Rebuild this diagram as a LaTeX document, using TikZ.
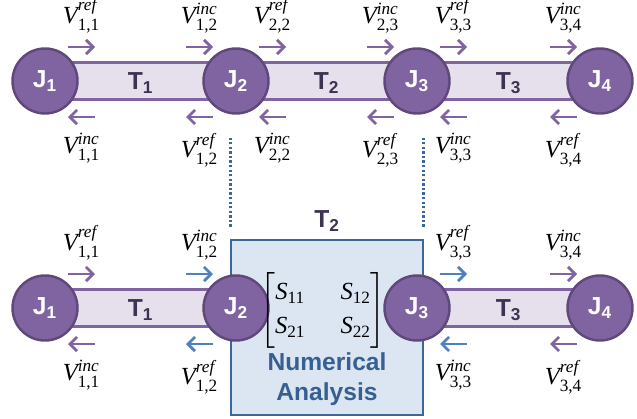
\documentclass[tikz,border=0pt]{standalone}
\usepackage{amsmath}
\usepackage{fontspec}
\setmainfont{Liberation Sans}
\newfontfamily\tnr{Liberation Serif}
\usetikzlibrary{positioning, arrows.meta, calc, fit, backgrounds}
\definecolor{juncpurple}{RGB}{128,100,162}
\definecolor{juncedge}{RGB}{95,73,122}
\definecolor{lineband}{RGB}{230,224,236}
\definecolor{tdark}{RGB}{63,49,81}
\definecolor{waveblue}{RGB}{79,129,189}
\definecolor{boxfill}{RGB}{220,230,242}
\definecolor{boxedge}{RGB}{59,103,155}
\definecolor{anatext}{RGB}{55,96,146}
\newcommand{\volt}[2]{$\text{\tnr\itshape V}^{\text{\tnr\itshape #1}}_{\text{\tnr #2}}$}
\newcommand{\sent}[1]{\text{\tnr\itshape S}_{\text{\tnr #1}}}
\tikzset{
  junc/.style={circle, draw=juncedge, line width=1.4pt, fill=juncpurple, text=white, minimum size=37pt, inner sep=0pt, font=\fontsize{14}{15}\selectfont\bfseries},
  band/.style={draw=juncpurple, line width=1.5pt, fill=lineband},
  tlab/.style={text=tdark, font=\fontsize{14}{15}\selectfont\bfseries},
  wave/.style={-{Straight Barb[length=4pt, width=8pt]}, line width=1.6pt, juncpurple},
  bwave/.style={wave, waveblue},
  vup/.style={above=4pt, font=\fontsize{14}{16}\selectfont, text=black},
  vdown/.style={below=5pt, font=\fontsize{14}{16}\selectfont, text=black},
  anabox/.style={draw=boxedge, line width=1.5pt, fill=boxfill, inner sep=0pt},
  dotline/.style={boxedge, line width=1.7pt, dash pattern=on 1.3pt off 1.3pt}
}

\begin{document}
\begin{tikzpicture}[x=0.02cm, y=-0.02cm]
  \useasboundingbox (0,0) rectangle (637,419);
  % full line: four junctions, three lines
  \node[junc] (tj1) at (45,81) {J$_\text{1}$};
  \node[junc] (tj2) at (236,81) {J$_\text{2}$};
  \node[junc] (tj3) at (417,81) {J$_\text{3}$};
  \node[junc] (tj4) at (600,81) {J$_\text{4}$};
  \begin{scope}[on background layer]
    \path[band] ($(tj1)+(0,-18.5)$) rectangle ($(tj2)+(0,18.5)$);
    \path[band] ($(tj2)+(0,-18.5)$) rectangle ($(tj3)+(0,18.5)$);
    \path[band] ($(tj3)+(0,-18.5)$) rectangle ($(tj4)+(0,18.5)$);
  \end{scope}
  \node[tlab] (tt1) at ($(tj1)!0.5!(tj2)+(0,2)$) {T$_\text{1}$};
  \node[tlab] (tt2) at ($(tj2)!0.5!(tj3)+(0,2)$) {T$_\text{2}$};
  \node[tlab] (tt3) at ($(tj3)!0.5!(tj4)+(0,2)$) {T$_\text{3}$};
  \draw[wave] ($(tj1)+(23,-34)$) -- node[vup]{\volt{ref}{1,1}} ($(tj1)+(50,-34)$);
  \draw[wave] ($(tj2)+(-50,-34)$) -- node[vup]{\volt{inc}{1,2}} ($(tj2)+(-23,-34)$);
  \draw[wave] ($(tj2)+(23,-34)$) -- node[vup]{\volt{ref}{2,2}} ($(tj2)+(50,-34)$);
  \draw[wave] ($(tj3)+(-50,-34)$) -- node[vup]{\volt{inc}{2,3}} ($(tj3)+(-23,-34)$);
  \draw[wave] ($(tj3)+(23,-34)$) -- node[vup]{\volt{ref}{3,3}} ($(tj3)+(50,-34)$);
  \draw[wave] ($(tj4)+(-50,-34)$) -- node[vup]{\volt{inc}{3,4}} ($(tj4)+(-23,-34)$);
  \draw[wave] ($(tj1)+(50,36)$) -- node[vdown]{\volt{inc}{1,1}} ($(tj1)+(23,36)$);
  \draw[wave] ($(tj2)+(-23,36)$) -- node[vdown]{\volt{ref}{1,2}} ($(tj2)+(-50,36)$);
  \draw[wave] ($(tj2)+(50,36)$) -- node[vdown]{\volt{inc}{2,2}} ($(tj2)+(23,36)$);
  \draw[wave] ($(tj3)+(-23,36)$) -- node[vdown]{\volt{ref}{2,3}} ($(tj3)+(-50,36)$);
  \draw[wave] ($(tj3)+(50,36)$) -- node[vdown]{\volt{inc}{3,3}} ($(tj3)+(23,36)$);
  \draw[wave] ($(tj4)+(-23,36)$) -- node[vdown]{\volt{ref}{3,4}} ($(tj4)+(-50,36)$);

  % reduced line: T2 replaced by the numerical block
  \node[junc] (bj1) at (45,308) {J$_\text{1}$};
  \node[junc] (bj2) at (236,308) {J$_\text{2}$};
  \node[junc] (bj3) at (417,308) {J$_\text{3}$};
  \node[junc] (bj4) at (600,308) {J$_\text{4}$};
  \begin{scope}[on background layer]
    \path[band] ($(bj1)+(0,-18.5)$) rectangle ($(bj2)+(0,18.5)$);
    \path[band] ($(bj3)+(0,-18.5)$) rectangle ($(bj4)+(0,18.5)$);
    \node[anabox, fit={(231,240) (423,415)}] (ana) {};
  \end{scope}
  \node[tlab] (bt1) at ($(bj1)!0.5!(bj2)+(0,2)$) {T$_\text{1}$};
  \node[tlab] (bt3) at ($(bj3)!0.5!(bj4)+(0,2)$) {T$_\text{3}$};
  \node[tlab] (bt2) at ($(ana.north)+(0,-18)$) {T$_\text{2}$};
  \node[font=\fontsize{14}{16}\selectfont] (smat) at (323,310)
    {\setlength{\arraycolsep}{10pt}\renewcommand{\arraystretch}{1.2}$\begin{bmatrix} \sent{11} & \sent{12}\\ \sent{21} & \sent{22}\end{bmatrix}$};
  \node[align=center, text=anatext, font=\fontsize{14}{17}\selectfont\bfseries] (numan) at (327,379) {Numerical\\Analysis};
  \draw[dotline] ($(ana.north west)+(1,-12)$) -- ++(0,-90);
  \draw[dotline] ($(ana.north east)+(-1,-12)$) -- ++(0,-90);
  \draw[wave] ($(bj1)+(23,-34)$) -- node[vup]{\volt{ref}{1,1}} ($(bj1)+(50,-34)$);
  \draw[bwave] ($(bj2)+(-50,-34)$) -- node[vup]{\volt{inc}{1,2}} ($(bj2)+(-23,-34)$);
  \draw[bwave] ($(bj3)+(23,-34)$) -- node[vup]{\volt{ref}{3,3}} ($(bj3)+(50,-34)$);
  \draw[wave] ($(bj4)+(-50,-34)$) -- node[vup]{\volt{inc}{3,4}} ($(bj4)+(-23,-34)$);
  \draw[wave] ($(bj1)+(50,36)$) -- node[vdown]{\volt{inc}{1,1}} ($(bj1)+(23,36)$);
  \draw[bwave] ($(bj2)+(-23,36)$) -- node[vdown]{\volt{ref}{1,2}} ($(bj2)+(-50,36)$);
  \draw[bwave] ($(bj3)+(50,36)$) -- node[vdown]{\volt{inc}{3,3}} ($(bj3)+(23,36)$);
  \draw[wave] ($(bj4)+(-23,36)$) -- node[vdown]{\volt{ref}{3,4}} ($(bj4)+(-50,36)$);
\end{tikzpicture}
\end{document}
